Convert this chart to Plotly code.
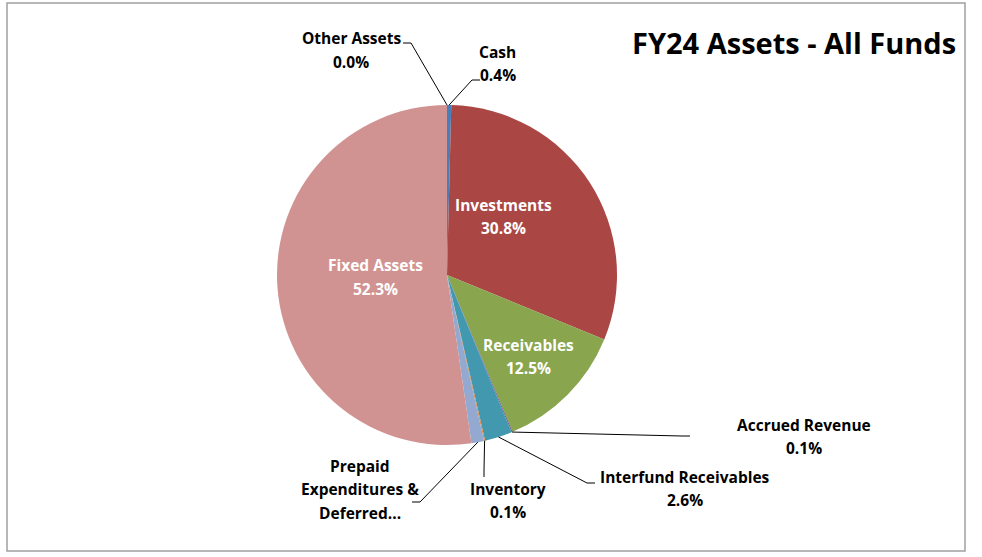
import plotly.graph_objects as go
import math

# ---- data ----
labels = ["Cash", "Investments", "Receivables", "Accrued Revenue", "Interfund Receivables",
          "Inventory", "Prepaid Expenditures & Deferred...", "Fixed Assets", "Other Assets"]
values = [0.4, 30.8, 12.5, 0.1, 2.6, 0.1, 1.2, 52.3, 0.0]
colors = ["#4A7EBB", "#AA4643", "#89A54E", "#71588F", "#4198AF",
          "#DB843D", "#93A9CF", "#D19392", "#B9CD96"]
title_text = "FY24 Assets - All Funds"

W, H = 982, 557
FONT = "Open Sans"
LS = 23.5  # line spacing px

def px(x):
    return x / W

def py(y):
    return 1 - y / H

# pie geometry (pixels)
CX, CY, R = 447, 275, 170

# label placement (pixel centers of label blocks)
label_pos = {
    "Cash": dict(x=498, y=63.5, inside=False, leader=[(472, 80), (480, 80)]),
    "Investments": dict(x=503, y=216.5, inside=True),
    "Receivables": dict(x=528, y=356.5, inside=True),
    "Accrued Revenue": dict(x=804, y=436.5, inside=False, leader=[(682, 436), (690, 436)]),
    "Interfund Receivables": dict(x=685, y=488.5, inside=False, leader=[(587, 483), (595, 483)]),
    "Inventory": dict(x=508, y=500.5, inside=False, leader=[(484, 470), (484, 477)]),
    "Prepaid Expenditures & Deferred...": dict(x=360, y=489, inside=False, leader=[(420, 502), (412, 502)],
                                               lines=["Prepaid", "Expenditures &", "Deferred..."]),
    "Fixed Assets": dict(x=375, y=277, inside=True),
    "Other Assets": dict(x=351, y=50, inside=False, leader=[(411, 43), (403, 43)]),
}

fig = go.Figure()
fig.add_trace(go.Pie(
    labels=labels, values=values, sort=False, direction="clockwise", rotation=0,
    marker=dict(colors=colors, line=dict(width=0)),
    textinfo="none", hoverinfo="label+percent",
    domain=dict(x=[px(CX - R), px(CX + R)], y=[py(CY + R), py(CY - R)]),
    showlegend=False,
))

total = sum(values)
annotations = []
shapes = []
cum = 0.0
for lab, v in zip(labels, values):
    mid = (cum + v / 2) / total
    cum += v
    pos = label_pos[lab]
    pct = 100 * v / total
    lines = pos.get("lines", [lab, f"{pct:.1f}%"])
    n = len(lines)
    for i, t in enumerate(lines):
        yy = pos["y"] + (i - (n - 1) / 2) * LS
        annotations.append(dict(
            x=px(pos["x"]), y=py(yy), xref="paper", yref="paper",
            text=t, showarrow=False, xanchor="center", yanchor="middle",
            font=dict(family=FONT, size=15.5, color="white" if pos["inside"] else "black", weight="bold"),
        ))
    if not pos["inside"]:
        ang = 2 * math.pi * mid
        sx = CX + R * math.sin(ang)
        sy = CY - R * math.cos(ang)
        pts = [(sx, sy)] + pos["leader"]
        path = "M " + " L ".join(f"{px(a)},{py(b)}" for a, b in pts)
        shapes.append(dict(type="path", path=path, xref="paper", yref="paper",
                           line=dict(color="black", width=1)))

annotations.append(dict(
    x=px(958), y=py(42), xref="paper", yref="paper", text=title_text, showarrow=False,
    xanchor="right", yanchor="middle",
    font=dict(family=FONT, size=29, color="black", weight="bold"),
))

shapes.append(dict(type="rect", xref="paper", yref="paper",
                   x0=px(7), x1=px(965), y0=py(551), y1=py(3),
                   line=dict(color="#A0A0A0", width=1.5), fillcolor="rgba(0,0,0,0)"))

fig.update_layout(
    width=W, height=H, margin=dict(l=0, r=0, t=0, b=0),
    paper_bgcolor="white", plot_bgcolor="white",
    annotations=annotations, shapes=shapes,
)
fig.write_html("out.html", config={"displayModeBar": False},
               post_script="document.body.style.margin='0';")
